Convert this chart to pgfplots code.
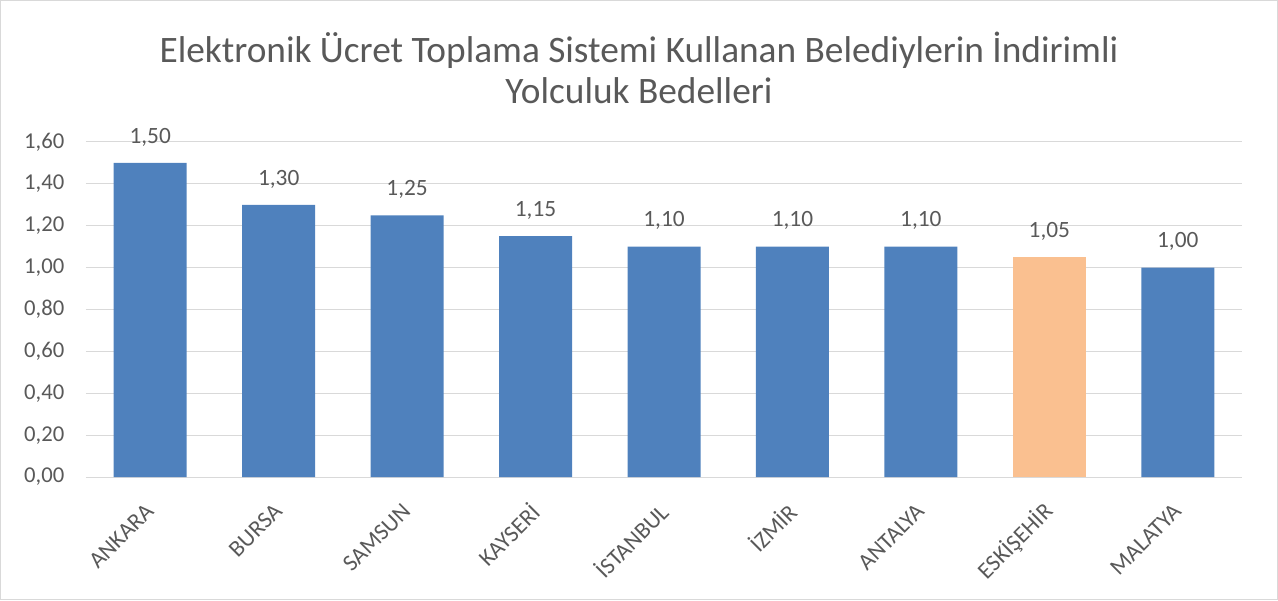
\documentclass[border=0pt]{standalone}
\usepackage{pgfplots}
\pgfplotsset{compat=1.18}
\usepackage{fontspec}
\setmainfont{Carlito}
\definecolor{barblue}{HTML}{4F81BD}
\definecolor{barorange}{HTML}{FAC090}
\definecolor{txt}{HTML}{595959}
\definecolor{gridc}{HTML}{D9D9D9}
\begin{document}
\begin{tikzpicture}[x=0.75pt,y=0.75pt]
\useasboundingbox (-86,-123) rectangle (1192,477);
\draw[gridc, line width=0.75pt] (-85.5,-122.5) rectangle (1191.5,476.5);
\begin{axis}[
  at={(0,0)}, anchor=south west,
  scale only axis, width=867pt, height=251.25pt,
  xmin=-0.5, xmax=8.5, ymin=0, ymax=1.6,
  ybar, bar width=54.75pt, bar shift=0pt,
  axis line style={draw=none},
  major tick length=0pt,
  ymajorgrids, grid style={gridc, line width=0.75pt},
  ytick={0,0.2,0.4,0.6,0.8,1.0,1.2,1.4,1.6},
  yticklabel style={font=\fontsize{17}{17}\selectfont, text=txt, xshift=-12.75pt,
    /pgf/number format/.cd, fixed, fixed zerofill, precision=2, use comma, assume math mode=true},
  xtick={0,1,2,3,4,5,6,7,8},
  xticklabels={\mbox{ANKARA},\mbox{BURSA},\mbox{SAMSUN},\mbox{KAYSERİ},\mbox{İSTANBUL},\mbox{İZMİR},\mbox{ANTALYA},\mbox{ESKİŞEHİR},\mbox{MALATYA}},
  xticklabel style={xshift=2pt, yshift=-20.5pt, rotate=45, anchor=east, font=\fontsize{17.5}{17.5}\selectfont, text=txt},
  nodes near coords={\pgfmathprintnumber[fixed,fixed zerofill,precision=2,use comma,assume math mode=true]{\pgfplotspointmeta}},
  every node near coord/.append style={font=\fontsize{17.5}{17.5}\selectfont, text=txt, yshift=9pt},
  clip=false,
]
\addplot[fill=barblue, draw=none] coordinates {(0,1.50) (1,1.30) (2,1.25) (3,1.15) (4,1.10) (5,1.10) (6,1.10) (8,1.00)};
\addplot[fill=barorange, draw=none] coordinates {(7,1.05)};
\end{axis}
\node[align=center, text=txt, font=\fontsize{28}{30.75}\selectfont] at (553,409.5) {Elektronik Ücret Toplama Sistemi Kullanan Belediylerin İndirimli\\Yolculuk Bedelleri};
\end{tikzpicture}
\end{document}
